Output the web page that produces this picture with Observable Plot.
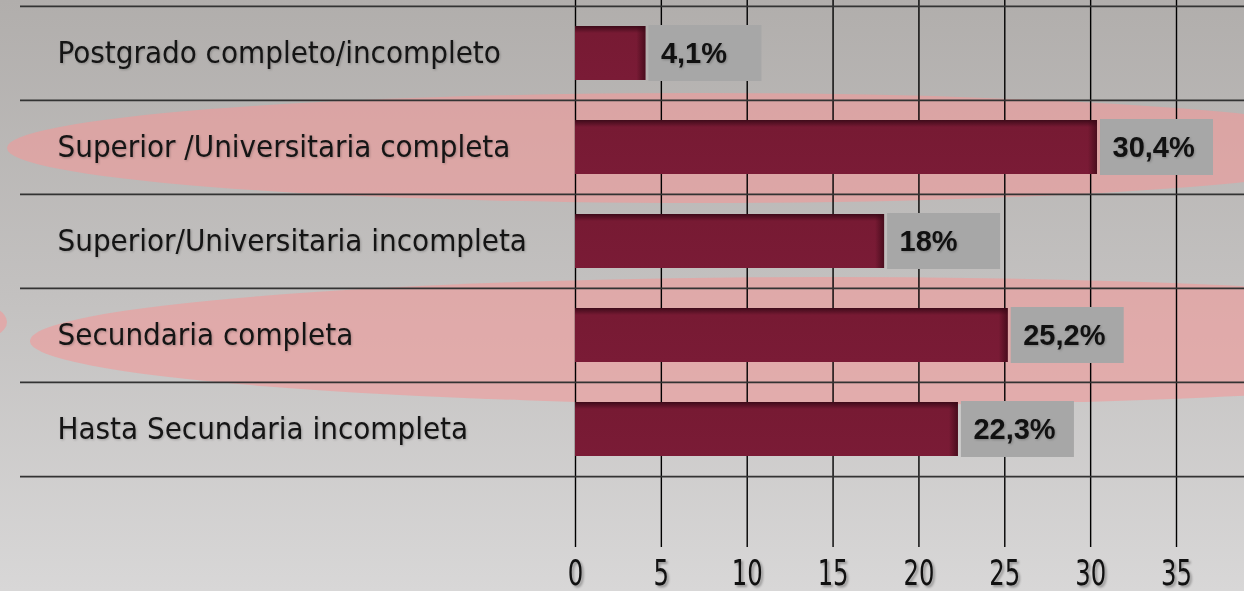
<!DOCTYPE html>
<html>
<head>
<meta charset="utf-8">
<script src="https://cdn.jsdelivr.net/npm/d3@7"></script>
<script src="https://cdn.jsdelivr.net/npm/@observablehq/plot@0.6"></script>
<style>
  html, body { margin: 0; padding: 0; background: #c4c2c1; }
  #chart svg { display: block; }
</style>
</head>
<body>
<div id="chart"></div>
<script>
// ---- data ----
const categories = [
  "Postgrado completo/incompleto",
  "Superior /Universitaria completa",
  "Superior/Universitaria incompleta",
  "Secundaria completa",
  "Hasta Secundaria incompleta"
];
const values = [4.1, 30.4, 18, 25.2, 22.3];
const valueLabels = ["4,1%", "30,4%", "18%", "25,2%", "22,3%"];
const xTicks = [0, 5, 10, 15, 20, 25, 30, 35];
const highlighted = ["Superior /Universitaria completa", "Secundaria completa"];

const data = categories.map((c, i) => ({category: c, value: values[i], label: valueLabels[i]}));

// ---- layout ----
const W = 1244, H = 591;
const bandTop = 5, bandBottom = 477;
const step = (bandBottom - bandTop) / categories.length;

const plot = Plot.plot({
  width: W,
  height: H,
  marginLeft: 575,
  marginRight: 0,
  marginTop: 5,
  marginBottom: 44,
  style: {
    background: "linear-gradient(180deg, #b1aeac 0%, #c3c1c0 50%, #d8d7d7 100%)",
    overflow: "visible"
  },
  x: {domain: [0, 38.96], axis: null},
  y: {domain: categories, range: [bandTop, bandBottom], padding: 0, axis: null},
  marks: [
    // vertical grid lines
    Plot.ruleX(xTicks, {x: d => d, stroke: "#000", strokeWidth: 1.4, insetTop: -5}),
    // row separators
    Plot.ruleY(categories, {y: d => d, dy: -step / 2, insetLeft: -555, stroke: "#333", strokeWidth: 1.8}),
    Plot.ruleY(categories.slice(-1), {y: d => d, dy: step / 2, insetLeft: -555, stroke: "#333", strokeWidth: 1.8}),
    // bars
    Plot.barX(data, {x: "value", y: "category", fill: "url(#barGrad)", insetTop: 20, insetBottom: 20}),
    Plot.barX(data, {x1: "value", x2: "value", y: "category", fill: "url(#barEdge)", insetLeft: -9, insetRight: 0, insetTop: 20, insetBottom: 20}),
    // value boxes
    Plot.barX(data, {x1: "value", x2: "value", y: "category", fill: "#a7a7a7", insetLeft: 3, insetRight: -116, insetTop: 19, insetBottom: 19}),
    Plot.text(data, {x: "value", y: "category", text: "label", dx: 15, textAnchor: "start",
      fontWeight: "bold", fontSize: 29, fill: "#111", fontFamily: "Liberation Sans, Arial, sans-serif"}),
    // category labels
    Plot.text(categories, {y: d => d, frameAnchor: "left", dx: -518, textAnchor: "start",
      fontSize: 31, fill: "#151515", fontFamily: "DejaVu Sans Condensed, DejaVu Sans, sans-serif"}),
    // x axis labels
    Plot.axisX(xTicks, {anchor: "bottom", tickSize: 0, tickPadding: 12, fontSize: 36, fill: "#111", label: null,
      fontFamily: "DejaVu Sans Condensed, sans-serif"})
  ]
});

// ---- decorations: gradients and highlight ellipses ----
const svg = d3.select(plot);
const defs = svg.insert("defs", ":first-child");
const g1 = defs.append("linearGradient").attr("id", "barGrad").attr("x1", 0).attr("y1", 0).attr("x2", 0).attr("y2", 1);
g1.append("stop").attr("offset", "0%").attr("stop-color", "#3e0b1a");
g1.append("stop").attr("offset", "13%").attr("stop-color", "#771a33");
g1.append("stop").attr("offset", "100%").attr("stop-color", "#7a1b36");
const g2 = defs.append("linearGradient").attr("id", "barEdge").attr("x1", 0).attr("y1", 0).attr("x2", 1).attr("y2", 0);
g2.append("stop").attr("offset", "0%").attr("stop-color", "#3a0815").attr("stop-opacity", 0);
g2.append("stop").attr("offset", "100%").attr("stop-color", "#3a0815").attr("stop-opacity", 0.75);

const ys = plot.scale("y");
const bw = ys.bandwidth != null ? ys.bandwidth : step;
const ellipseSpecs = {
  "Superior /Universitaria completa": [{cx: 700, rx: 693, ry: 55, dy: 1}],
  "Secundaria completa": [{cx: 830, rx: 800, ry: 64, dy: 6}, {cx: -30, rx: 37, ry: 19, dy: -13}]
};
const eg = svg.insert("g", "g[aria-label]").attr("class", "highlights");
highlighted.forEach(cat => {
  const cy = ys.apply(cat) + bw / 2;
  (ellipseSpecs[cat] || []).forEach(e => {
    eg.append("ellipse")
      .attr("cx", e.cx).attr("cy", cy + e.dy)
      .attr("rx", e.rx).attr("ry", e.ry)
      .attr("fill", "#f29a9a").attr("fill-opacity", 0.6);
  });
});

document.getElementById("chart").appendChild(plot);

// condensed axis digits and subtle shadows
svg.selectAll("g[aria-label='x-axis tick label'] text").each(function() {
  const len = this.getComputedTextLength();
  this.setAttribute("textLength", (len * 0.75).toFixed(1));
  this.setAttribute("lengthAdjust", "spacingAndGlyphs");
}).style("filter", "drop-shadow(2px 2px 1px rgba(0,0,0,0.3))");
svg.selectAll("g[aria-label='text'] text")
  .style("filter", "drop-shadow(1.5px 1.5px 1px rgba(0,0,0,0.22))");
</script>
</body>
</html>
